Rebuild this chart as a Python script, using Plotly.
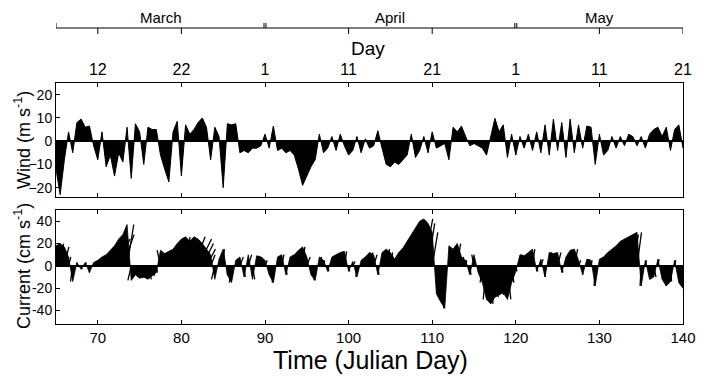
import plotly.graph_objects as go

# ---------------- data ----------------
t_start = 65.0
t_step = 0.5

# wind north component (m/s), every 0.5 day from day 65 to 140
wind_v = [
    -12, -23, -8, 4, -5, 8, 9.5, 6, 6.5, -2,
    -8, 4, -11, -6, -15, -5, -9, 6, -16, 7.5,
    4, -10, 6, 5, 5, -6, -12, -17.5, 4, 8.5,
    -15, 7, 3, 5, 8, 10, 6, -8, 6, 2,
    -20, 7.5, 7, 7.5, -5, -4, -5, -3, -3, -2,
    3, -3, 6.5, -4, -3, -5, -4, -6, -12, -19,
    -15, -11, -8, 3, -5, -3, 2, -4, 3, -2,
    -6, -4, 2, -5, 1, -3, -2, 4.5, -3, -10,
    -11, -9, -10, -8, -6, 3, -7, -4, 2, -5,
    4, -3, -2, -1, -8, 6, 4, 6.5, 2, -2,
    -1, -2, -3, -6, 2, 9.8, 4, 7, -7, 3,
    -6, 2, -3, 3, -4, 4, -5, 7, -6, 9.5,
    -4, 8, -7, 9.5, -5, 7, -3, 6.5, 6, -10,
    3, -6, -4, 2, -3, 2, -2, 3, 2, -2,
    2, -3, 3, 5, 6, 2, 6, -4, 5, 7,
    -3,
]

# current components (cm/s), every 0.5 day from day 65 to 140
cur_v = [
    18, 20, 17, 8, -14, 3, -3, 3, -6, 3,
    5, 8, 10, 14, 18, 24, 28, 37, -13, -8,
    -11, -10, -12, -9, -6, 14, 11, 13, 15, 20,
    24, 26, 22, 26, 24, 20, 15, 10, -12, 6,
    15, -8, -15, 5, 8, -10, 10, -12, 9, 8,
    5, -8, -15, 8, 10, -8, 8, 10, 14, 17,
    8, -8, -13, 8, 5, -5, 8, 10, 12, 13,
    -5, 4, -10, 5, 8, 12, 10, -8, 12, 15,
    12, 6, 12, 16, 22, 28, 35, 40, 42, 38,
    30, -25, -32, -38, 18, 15, 20, 8, 5, -8,
    10, -6, -15, -30, -34, -28, -26, -24, -30, -15,
    -5, 10, 9, 12, 15, -5, 6, -10, 12, 11,
    12, -6, 8, 14, 15, 5, -8, 6, 5, -18,
    6, 8, 12, 15, 18, 22, 24, 26, 28, 30,
    -18, 5, -12, -10, 6, -12, -18, -14, 5, -15,
    -20,
]
cur_u = [
    2, 3, 4, 2, -2, 0, 1, 1, 0, 2,
    3, 5, 6, 8, 9, 10, 10, 6, -3, 2,
    3, 4, 3, 2, 1, -3, -2, 2, 3, 4,
    5, 4, 8, 10, 12, 10, 8, 4, -3, 2,
    1, 0, -2, 2, 3, 1, 3, 2, 2, 1,
    2, 1, -1, 2, 2, 1, 3, 4, 4, 2,
    3, 1, -1, 2, 1, 1, 2, 3, 3, 2,
    1, 2, -1, 2, 3, 3, 3, 1, 3, 3,
    2, 2, 4, 5, 6, 8, 8, 6, 8, 6,
    5, 4, 2, -1, 6, 5, 3, 2, 1, 1,
    -2, 1, -2, -3, 2, 3, 4, 4, 3, 2,
    1, 2, 3, 3, 2, 1, 2, 0, 2, 3,
    3, 1, 2, 3, 3, 2, 0, 2, 1, -1,
    2, 3, 4, 5, 6, 6, 6, 6, 5, 4,
    -1, 1, 1, 2, 1, 1, 0, 1, 1, 1,
    0,
]

day_ticks = [70, 80, 90, 100, 110, 120, 130, 140]
day_labels = ["12", "22", "1", "11", "21", "1", "11", "21"]
month_names = ["March", "April", "May"]
month_bounds = [65, 90, 120, 140]

wind_ticks = [-20, -10, 0, 10, 20]
cur_ticks = [-40, -20, 0, 20, 40]

# ---------------- layout geometry ----------------
PAGE_OFF = 8                 # default body margin of the html page
W, H = 708 - PAGE_OFF, 379 - PAGE_OFF
ML, MR, MT, MB = 56 - PAGE_OFF, 25, 83 - PAGE_OFF, 55
x_range = [65, 140]
wind_range = [-24, 25]
cur_range = [-52, 50]
top_dom = [0.527, 1.0]
bot_dom = [0.0, 0.473]

plot_w = W - ML - MR
plot_h = H - MT - MB
px_per_day = plot_w / (x_range[1] - x_range[0])
px_per_cur = plot_h * (bot_dom[1] - bot_dom[0]) / (cur_range[1] - cur_range[0])
k_cur = px_per_cur / px_per_day   # days per cm/s so sticks keep true direction


def px(xs):
    """screen x (page pixels) -> paper x"""
    return (xs - PAGE_OFF - ML) / plot_w


def py(ys):
    """screen y (page pixels) -> paper y"""
    return (H - MB - (ys - PAGE_OFF)) / plot_h


days = [t_start + t_step * i for i in range(len(wind_v))]
cdays = [t_start + t_step * i for i in range(len(cur_v))]

FONT = "Arial, Liberation Sans, sans-serif"

fig = go.Figure()

# wind (filled stick envelope)
fig.add_trace(go.Scatter(
    x=days, y=wind_v, mode="lines", fill="tozeroy",
    fillcolor="black", line=dict(color="black", width=1),
    xaxis="x", yaxis="y", hoverinfo="skip", showlegend=False))

# current: fill plus sticks
fig.add_trace(go.Scatter(
    x=cdays, y=cur_v, mode="lines", fill="tozeroy",
    fillcolor="black", line=dict(color="black", width=0.8),
    xaxis="x2", yaxis="y2", hoverinfo="skip", showlegend=False))

sx, sy = [], []
for t, u, v in zip(cdays, cur_u, cur_v):
    sx += [t, t + u * k_cur, None]
    sy += [0, v, None]
fig.add_trace(go.Scatter(
    x=sx, y=sy, mode="lines", line=dict(color="black", width=1.3),
    xaxis="x2", yaxis="y2", hoverinfo="skip", showlegend=False))

# invisible helper so the top "Day" axis is drawn
fig.add_trace(go.Scatter(
    x=x_range, y=[0, 0], mode="markers", marker=dict(opacity=0),
    xaxis="x3", yaxis="y", hoverinfo="skip", showlegend=False))

axis_common = dict(showline=True, linecolor="black", linewidth=1,
                   showgrid=False, ticks="inside", ticklen=4,
                   tickcolor="black", tickwidth=1, automargin=False)

fig.update_layout(
    width=W, height=H,
    margin=dict(l=ML, r=MR, t=MT, b=MB, autoexpand=False),
    paper_bgcolor="white", plot_bgcolor="white",
    font=dict(family=FONT, color="black", size=15),
    xaxis=dict(domain=[0, 1], anchor="y", range=x_range, tickvals=day_ticks,
               mirror="allticks", showticklabels=False, zeroline=False,
               **axis_common),
    xaxis2=dict(domain=[0, 1], anchor="y2", range=x_range, tickvals=day_ticks,
                mirror="allticks", zeroline=False, tickfont=dict(size=15),
                **axis_common),
    xaxis3=dict(overlaying="x", anchor="y", side="top", range=x_range,
                tickvals=day_ticks, ticktext=day_labels, ticks="",
                showline=False, showgrid=False, zeroline=False, automargin=False,
                tickfont=dict(size=16), ticklabelstandoff=4),
    yaxis=dict(domain=top_dom, anchor="x", range=wind_range, tickvals=wind_ticks,
               mirror=True, zeroline=True, zerolinecolor="black", zerolinewidth=2,
               tickfont=dict(size=14), **axis_common),
    yaxis2=dict(domain=bot_dom, anchor="x2", range=cur_range, tickvals=cur_ticks,
                ticktext=[str(v) for v in cur_ticks],
                mirror=True, zeroline=True, zerolinecolor="black", zerolinewidth=2,
                tickfont=dict(size=14), **axis_common),
)

# month bracket axis above the Day axis
y_line = py(28)
shapes = [dict(type="line", xref="x", yref="paper", x0=month_bounds[0], x1=month_bounds[-1],
               y0=y_line, y1=y_line, line=dict(color="black", width=1))]
for d in day_ticks:
    if d in month_bounds[1:-1]:
        continue
    shapes.append(dict(type="line", xref="x", yref="paper", x0=d, x1=d,
                       y0=y_line, y1=py(34), line=dict(color="black", width=1)))
for i, b in enumerate(month_bounds[:-1]):
    offs = [0] if i == 0 else [-0.12, 0.12]
    for o in offs:
        shapes.append(dict(type="line", xref="x", yref="paper", x0=b + o, x1=b + o,
                           y0=y_line, y1=py(23), line=dict(color="black", width=1)))
fig.update_layout(shapes=shapes)

for name, a, b in zip(month_names, month_bounds[:-1], month_bounds[1:]):
    fig.add_annotation(x=(a + b) / 2, y=py(17), xref="x", yref="paper",
                       text=name, showarrow=False, font=dict(size=15),
                       xanchor="center", yanchor="middle")

# titles
fig.add_annotation(x=px(368), y=py(48), xref="paper", yref="paper", text="Day",
                   showarrow=False, font=dict(size=19), xanchor="center", yanchor="middle")
fig.add_annotation(x=px(370), y=py(360), xref="paper", yref="paper", text="Time (Julian Day)",
                   showarrow=False, font=dict(size=25), xanchor="center", yanchor="middle")
fig.add_annotation(x=px(22), y=py(140), xref="paper", yref="paper",
                   text="Wind (m s<sup>-1</sup>)", textangle=-90,
                   showarrow=False, font=dict(size=18), xanchor="center", yanchor="middle")
fig.add_annotation(x=px(22), y=py(266), xref="paper", yref="paper",
                   text="Current (cm s<sup>-1</sup>)", textangle=-90,
                   showarrow=False, font=dict(size=18), xanchor="center", yanchor="middle")

fig.write_html("out.html")
